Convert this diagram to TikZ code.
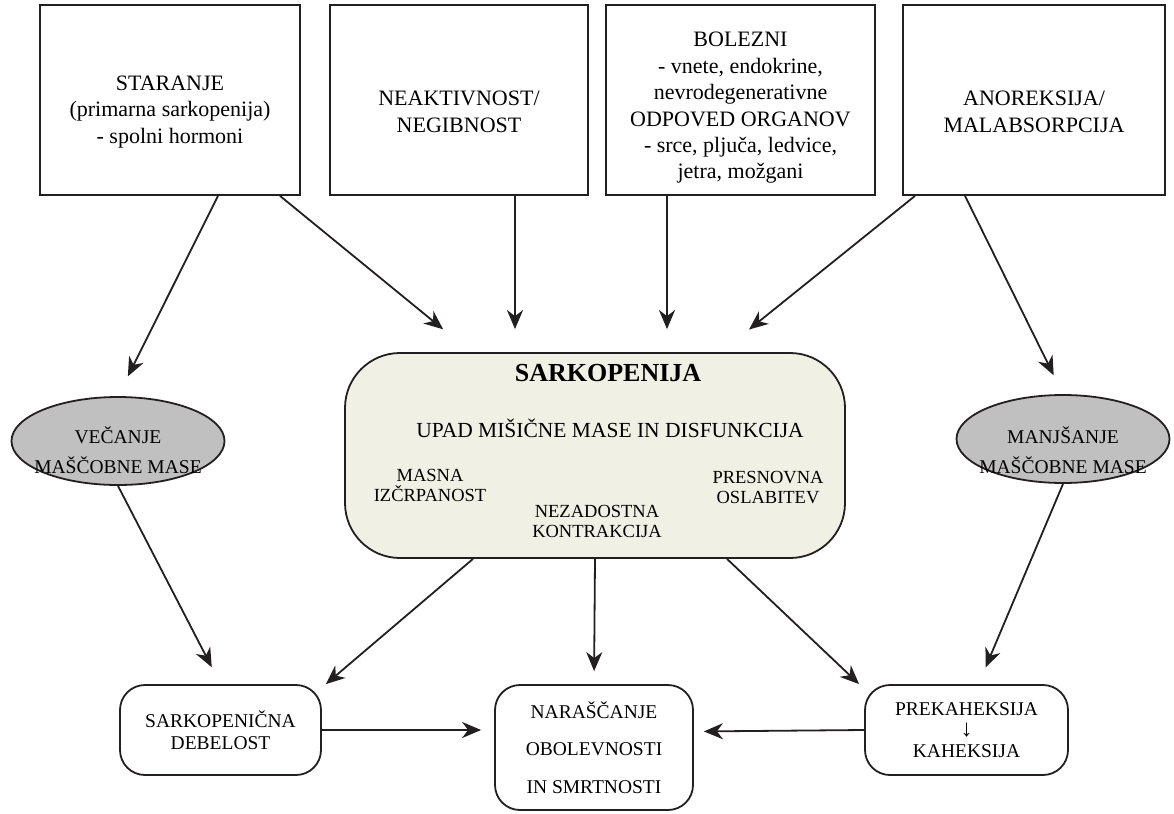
\documentclass[tikz,border=0pt]{standalone}
\usepackage{fontspec}
\setmainfont{Liberation Serif}
\usetikzlibrary{shapes.geometric, arrows.meta, positioning}
\definecolor{inkline}{RGB}{35,31,32}
\definecolor{corefill}{RGB}{240,240,228}
\definecolor{fatfill}{RGB}{192,192,192}

\begin{document}
\begin{tikzpicture}[
    x=1pt, y=-1pt,
    topbox/.style={rectangle, draw=inkline, line width=1.8pt, minimum height=190pt, inner sep=0pt},
    toptext/.style={align=center, inner sep=0pt, font=\fontsize{22}{26.4}\selectfont},
    fatell/.style={ellipse, draw=inkline, line width=1.8pt, fill=fatfill, minimum width=213pt, minimum height=88pt, inner sep=0pt},
    fattext/.style={align=center, inner sep=0pt, font=\fontsize{19.5}{30}\selectfont},
    corebox/.style={rectangle, rounded corners=55pt, draw=inkline, line width=1.8pt, fill=corefill, minimum width=500pt, minimum height=205pt},
    lbl/.style={align=center, inner sep=0pt, font=\fontsize{18.5}{20}\selectfont},
    endbox/.style={rectangle, rounded corners=25pt, draw=inkline, line width=1.8pt, minimum width=201pt, minimum height=90pt, align=center, inner sep=0pt, font=\fontsize{19.5}{22}\selectfont},
    arrow/.style={-{Stealth[length=19pt, width=16pt, inset=6pt]}, line width=1.8pt, draw=inkline}
]
\useasboundingbox (0,0) rectangle (1174,813);

% Causes
\node[topbox, minimum width=260pt] (aging) at (170,100) {};
\node[toptext] (agingtext) at (170,112) {STARANJE\\(primarna sarkopenija)\\- spolni hormoni};
\node[topbox, minimum width=258pt] (inact) at (459,100) {};
\node[toptext] (inacttext) at (459,112) {NEAKTIVNOST/\\NEGIBNOST};
\node[topbox, minimum width=269pt] (disease) at (740.5,100) {};
\node[toptext] (diseasetext) at (740.5,108) {BOLEZNI\\- vnete, endokrine,\\nevrodegenerativne\\ODPOVED ORGANOV\\- srce, pljuča, ledvice,\\jetra, možgani};
\node[topbox, minimum width=262pt] (anorex) at (1034,100) {};
\node[toptext] (anorextext) at (1034,112) {ANOREKSIJA/\\MALABSORPCIJA};

% Sarkopenija
\node[corebox] (sarko) at (595,455.5) {};
\node[font=\fontsize{26}{30}\selectfont\bfseries, inner sep=0pt] (sarkotitle) at (608,373) {SARKOPENIJA};
\node[font=\fontsize{21.5}{26}\selectfont, inner sep=0pt] (upad) at (610,428) {UPAD MIŠIČNE MASE IN DISFUNKCIJA};
\node[lbl] (masna) at (430,485) {MASNA\\IZČRPANOST};
\node[lbl] (nezad) at (597,521.5) {NEZADOSTNA\\KONTRAKCIJA};
\node[lbl] (presn) at (768,487.5) {PRESNOVNA\\OSLABITEV};

% Fat mass
\node[fatell] (fatup) at (118,441) {};
\node[fattext] (fatuptext) at (118,450) {VEČANJE\\MAŠČOBNE MASE};
\node[fatell] (fatdown) at (1063,439) {};
\node[fattext] (fatdowntext) at (1063,450) {MANJŠANJE\\MAŠČOBNE MASE};

% Outcomes
\node[endbox] (sarkob) at (220.5,730) {SARKOPENIČNA\\DEBELOST};
\node[endbox, minimum width=198pt, minimum height=125pt, font=\fontsize{19.5}{37.5}\selectfont] (risk) at (594,747.5) {NARAŠČANJE\\OBOLEVNOSTI\\IN SMRTNOSTI};
\node[endbox, minimum width=203pt, font=\fontsize{19.5}{21}\selectfont] (cachex) at (966.5,730) {PREKAHEKSIJA\\{\fontsize{24}{14}\selectfont ↓}\\KAHEKSIJA};

% Arrows - causes
\draw[arrow, shorten >=22pt] ([xshift=48pt]aging.south) -- (fatup.north);
\draw[arrow, shorten >=36pt] ([xshift=110pt]aging.south) -- ([xshift=-124pt]sarko.north);
\draw[arrow, shorten >=23pt] ([xshift=56pt]inact.south) -- ([xshift=-80pt]sarko.north);
\draw[arrow, shorten >=23pt] ([xshift=-73.5pt]disease.south) -- ([xshift=72pt]sarko.north);
\draw[arrow, shorten >=36pt] ([xshift=-119pt]anorex.south) -- ([xshift=126pt]sarko.north);
\draw[arrow, shorten >=21pt] ([xshift=-69pt]anorex.south) -- (fatdown.north);

% Arrows - outcomes
\draw[arrow, shorten >=19pt] (fatup.south) -- (sarkob.north);
\draw[arrow] ([xshift=-122pt]sarko.south) -- ([xshift=4pt]sarkob.north east);
\draw[arrow, shorten >=13pt] (sarko.south) -- (risk.north);
\draw[arrow] ([xshift=132pt]sarko.south) -- ([xshift=-5pt]cachex.north west);
\draw[arrow, shorten >=18pt] (fatdown.south) -- ([xshift=12pt]cachex.north);
\draw[arrow, shorten >=13pt] (sarkob.east) -- (sarkob.east -| risk.west);
\draw[arrow, shorten >=10pt] (cachex.west) -- ([yshift=16pt]risk.east);

\end{tikzpicture}
\end{document}
